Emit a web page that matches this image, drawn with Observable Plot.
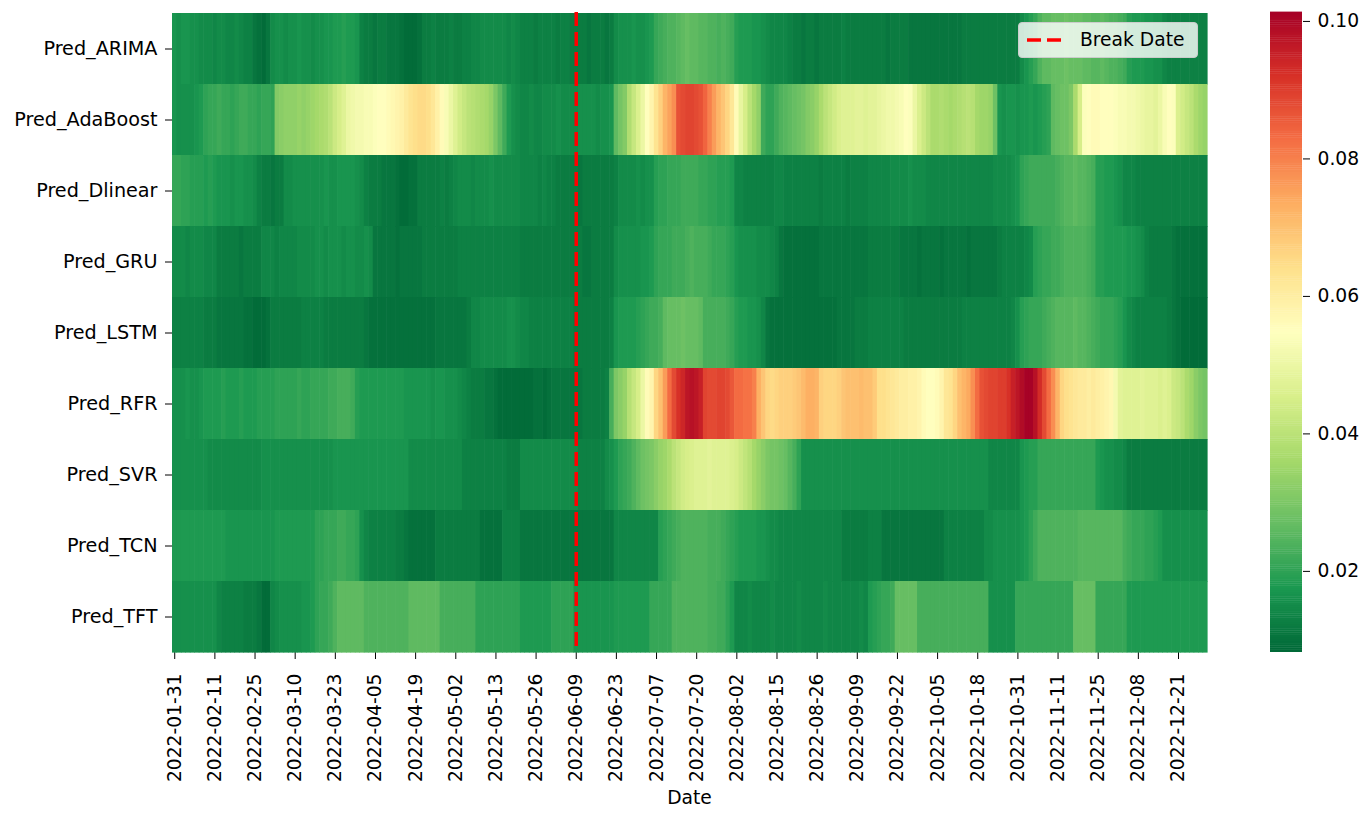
<!DOCTYPE html>
<html>
<head>
<meta charset="utf-8">
<script src="https://cdn.jsdelivr.net/npm/d3@7"></script>
<script src="https://cdn.jsdelivr.net/npm/@observablehq/plot@0.6"></script>
<style>
html, body { margin: 0; padding: 0; background: #fff; }
#wrap { position: relative; width: 1372px; height: 813px; font-family: "DejaVu Sans", sans-serif; color: #000; }
#main { position: absolute; left: 0; top: 0; }
#cbar { position: absolute; left: 1230px; top: 0; }
#xlabel { position: absolute; left: 172px; width: 1035px; top: 787px; text-align: center; font-size: 18.7px; line-height: 22px; }
#legend { position: absolute; left: 1018px; top: 22px; width: 178px; height: 34px; background: rgba(255,255,255,0.8); border: 1px solid #cccccc; border-radius: 4px; }
#legend svg { position: absolute; left: 8px; top: 0; }
#legend span { position: absolute; left: 61px; top: 6px; font-size: 18.7px; line-height: 22px; white-space: nowrap; }
#main g[aria-label="y-axis tick label"] { font-size: 19.2px; }
</style>
</head>
<body>
<div id="wrap">
  <div id="main"></div>
  <div id="cbar"></div>
  <div id="xlabel">Date</div>
  <div id="legend">
    <svg width="40" height="34"><line x1="0" x2="34" y1="17" y2="17" stroke="#ff0000" stroke-width="3.5" stroke-dasharray="14,6"/></svg>
    <span>Break Date</span>
  </div>
</div>
<script>
// ---- categories ----
const models = ["Pred_ARIMA","Pred_AdaBoost","Pred_Dlinear","Pred_GRU","Pred_LSTM","Pred_RFR","Pred_SVR","Pred_TCN","Pred_TFT"];
const marketHolidays = ["2022-02-21","2022-04-15","2022-05-30","2022-06-20","2022-07-04","2022-09-05","2022-11-24","2022-12-26"];
const fmtDay = d3.utcFormat("%Y-%m-%d");
const dates = d3.utcDays(new Date(Date.UTC(2022,0,31)), new Date(Date.UTC(2022,11,31)))
  .filter(d => d.getUTCDay() !== 0 && d.getUTCDay() !== 6)
  .map(fmtDay)
  .filter(s => !marketHolidays.includes(s));
const tickDates = ["2022-01-31","2022-02-11","2022-02-25","2022-03-10","2022-03-23","2022-04-05","2022-04-19","2022-05-02","2022-05-13","2022-05-26","2022-06-09","2022-06-23","2022-07-07","2022-07-20","2022-08-02","2022-08-15","2022-08-26","2022-09-09","2022-09-22","2022-10-05","2022-10-18","2022-10-31","2022-11-11","2022-11-25","2022-12-08","2022-12-21"];
const breakDate = "2022-06-09";
const colorTicks = [0.02, 0.04, 0.06, 0.08, 0.10];

// ---- series values (one per trading day) ----
const predARIMA = [
.017,.016,.017,.017,.016,.016,.015,
.015,.015,.014,.015,.015,.014,.014,.015,.014,.013,.013,
.011,.010,.009,.011,
.015,.016,.016,.015,.016,.016,.017,.016,.016,.015,.016,.016,.017,.017,
.018,.018,.019,.018,.018,.017,
.013,.012,.012,.011,.012,.012,.011,.011,.011,
.010,.009,.009,.009,.010,
.012,.012,.013,.012,.012,.012,.013,.012,.012,.013,.013,.014,
.014,.015,.015,.015,.015,.015,.015,.014,.015,.014,
.013,.013,.013,.012,.013,.013,.013,.013,.012,.013,.013,.012,.012,
.012,.012,.011,.012,.012,.012,.011,.012,
.015,.016,.016,.016,.017,.016,.016,.017,.018,
.021,.022,.023,.024,.024,
.025,.026,.027,.026,.026,.025,.025,
.024,.024,.023,.024,.023,.022,
.019,.018,.018,.018,.017,.017,.016,
.015,.014,.014,.014,.014,.013,
.012,.012,.011,.012,.012,.011,.012,.012,.012,
.012,.012,.013,.012,.012,.012,.012,.012,
.012,.012,.012,.012,.011,.012,.012,.012,.012,.011,
.011,.011,.011,.011,.011,.011,.011,.011,.011,.011,.011,
.012,.012,.012,.012,.012,.012,.012,.012,.012,.012,.012,.012,.012,
.015,.017,.019,.021,.024,
.026,.026,.027,.027,.027,
.028,.027,.027,.027,.026,.026,
.025,.025,.026,.025,.024,.024,.023,.022,
.019,.018,.018,.018,.017,.017,.016,.016,
.014,.013,.013,.013,.013,.013,.013,.013,.013,.013
];
const predAdaBoost = [
.017,.016,.016,.016,.016,.017,.018,
.020,.021,.021,.022,.021,.021,.020,.021,.022,.022,.021,.021,.020,.021,.021,.020,
.031,.032,.033,.033,.033,.034,.033,.034,.035,
.036,.037,.038,.040,
.043,.045,.047,
.050,.051,.052,.052,.053,.053,
.054,.055,.055,.056,.057,
.058,.059,.061,
.063,.064,.065,.065,.064,.062,
.059,.056,
.053,.050,
.047,.044,.042,
.040,.039,.038,.037,.036,
.034,.030,
.026,.022,.018,
.016,.015,
.014,.014,.015,.014,.014,.015,.015,.015,.016,.015,.015,.015,.015,.016,.016,.016,.016,.015,.016,.016,.017,
.026,.029,.031,
.038,.042,.046,.050,
.055,.058,
.063,.067,
.072,.075,.078,
.087,.088,.089,.089,.088,.087,
.084,.080,
.076,.072,
.069,.066,.062,
.056,
.049,.045,.040,
.036,.033,.022,
.020,.020,.022,
.024,.025,.026,.027,
.028,.029,.031,.032,
.034,.037,.040,
.042,.044,.046,
.047,.047,.047,.048,.048,.047,
.048,.048,.049,
.050,.051,.051,.052,.053,
.055,.054,.050,
.046,.043,.040,
.037,.037,.038,.037,.036,.037,.038,
.039,.040,.039,
.036,.035,.035,.034,.028,
.017,.016,.017,.017,.016,.017,.017,.018,.017,
.018,.019,.020,
.026,.027,.028,.028,.030,
.037,.045,
.054,.055,.056,.056,.055,.055,.055,.054,
.053,.053,.052,.052,.051,
.050,.049,.049,.048,.050,
.053,.055,.054,
.046,.044,.042,.040,
.037,.035,.034
];
const predDlinear = [
.021,.021,.020,.020,
.019,.019,.019,.018,.019,.018,
.017,.017,.017,.016,.017,.017,.016,.016,.015,
.013,.012,.012,.011,.012,.012,
.015,.015,.016,.016,.016,.016,.016,.016,.016,.017,.016,.016,
.017,.017,.017,.017,.016,.015,
.013,.012,.012,.012,.011,.011,.011,.010,
.009,.009,.010,.010,
.012,.012,.012,.012,.012,.013,.012,.013,.014,
.015,.015,.015,.014,.015,.015,.015,.016,.015,.015,.015,.015,.015,.015,
.014,.014,.014,.014,.013,.014,.013,.013,
.012,.012,.012,.012,.012,.011,.012,.012,.012,.012,.012,.012,.012,.013,
.015,.015,.015,.015,.016,.015,.016,.016,
.019,.020,.020,.021,.021,.021,
.022,.022,.022,.022,.021,.021,
.020,.020,.019,.019,.019,.018,
.014,.014,.013,.013,.013,.013,.013,.013,.013,.014,.014,.013,.013,.013,.013,.013,.013,.013,.013,.012,.013,.013,.013,.013,.013,.012,.013,.013,.013,.013,
.014,.014,.014,.014,.014,.015,.015,
.015,.015,.016,.015,.015,.015,.014,.014,
.014,.014,.014,.014,.014,.014,.014,.014,.014,.014,.014,.014,.014,.015,.015,.015,.015,.016,.017,
.020,.021,.022,.022,.022,.022,.022,.022,.023,
.024,.025,.025,.026,.025,.025,.024,.023,
.019,.019,.018,.018,.017,.016,
.014,.014,.014,.013,.013,.013,.013,.013,.013,.013,.013,.013,.013,.013,.013,.013,.013,.013,.013
];
const predGRU = [
.015,.015,.015,.014,.015,.015,.015,.014,.014,.014,
.012,.012,.012,.012,.012,.011,.012,.012,.012,.012,
.014,.014,.014,.013,.014,.014,.014,.014,.015,.015,
.015,.015,.016,.016,.015,.016,.016,.016,.015,.016,.016,.015,.015,.016,.015,
.011,.011,.011,.011,.011,.010,.011,.011,.011,.011,.011,
.012,.012,.012,.012,.012,.012,.012,.012,
.013,.013,.013,.013,.013,.013,.013,.013,.013,.013,.013,.013,.013,.013,
.012,.012,.012,.012,.012,.012,.012,.012,.012,.012,.012,.012,.012,.012,.011,.011,.012,.012,.012,.012,.012,
.015,.016,.016,.016,.016,.016,.017,.017,.018,
.020,.021,.021,.021,.022,.022,.022,
.023,.024,.023,.023,.023,
.022,.021,.021,.021,.020,.019,
.017,.016,.016,.016,.016,.015,.015,.015,.014,.013,
.011,.010,.010,.010,.010,.010,.010,.010,.010,
.011,.011,.011,.011,.011,.011,.011,.011,.011,.011,.011,
.012,.012,.012,.012,.012,.012,.012,.011,
.011,.011,.011,.010,.011,.011,.011,.011,.010,.011,.011,.011,.011,.011,.010,.011,.011,.011,.011,.011,.011,
.012,.013,.013,.013,.013,.013,.014,.015,
.019,.020,.021,.021,.022,.022,
.023,.024,.024,.024,.024,.024,.023,.022,
.019,.019,.018,.018,.018,.018,.018,.017,.017,.016,.015,
.013,.012,.012,.012,.012,.012,.011,
.010,.010,.010,.010,.010,.010,.010
];
const predLSTM = [
.013,.013,.013,.013,.013,.013,.013,.012,.012,.012,
.011,.011,.011,.011,.011,.011,.010,.010,
.009,.009,.009,.010,
.012,.012,.012,.012,.012,.012,.012,.013,.013,.013,.013,.013,.012,.012,.012,.012,.012,.012,.012,.012,.012,.011,
.010,.010,.010,.010,.010,.010,.010,.010,.010,.010,.010,.010,.010,.010,.010,.011,.011,.011,.011,.011,.011,.011,.012,
.014,.014,.015,.015,.015,.015,.015,.015,
.016,.016,.015,
.014,.014,.013,.013,.013,.013,.013,.013,.013,.013,.013,.013,.012,
.012,.012,.012,.012,.012,.012,.012,.013,
.017,.018,.018,.018,.018,.019,.020,
.021,.022,.022,.023,
.026,.027,.027,.027,.028,.027,.027,.027,.026,
.023,.023,.023,.023,.023,.022,.021,
.019,.018,.018,.017,.017,.016,.014,
.011,.010,.010,.010,.010,.010,.010,.010,.010,.010,.010,.010,.010,.010,.010,.010,.011,.011,.011,.011,.012,.012,.012,
.013,.013,.013,.013,.013,.013,.013,.013,
.012,.012,.012,.012,.012,.012,.012,.012,.012,.012,.012,.012,.012,
.013,.013,.013,.013,.013,.013,.013,.013,.013,.013,.013,.014,.016,
.019,.020,.021,.021,.021,.022,.023,
.024,.025,.025,.025,.025,.026,.025,.025,.024,.023,
.022,.021,.021,.021,.020,.019,.017,.015,
.014,.013,.013,.013,.013,.013,.013,.013,.012,.011,
.010,.009,.009,.009,.009,.009,.009
];
const predRFR = [
.016,.016,.016,.017,.016,.016,.017,
.018,.018,.018,.018,.019,.018,.018,.018,.019,.018,.018,.018,.019,.019,.019,.019,
.020,.020,.020,.020,.020,.021,.020,.020,.021,.021,
.021,.021,.022,.022,
.023,.023,.023,.022,
.019,.018,.018,.018,.018,.018,.018,.018,.018,.018,.018,.017,
.017,.017,.017,.017,.017,.016,.017,.017,.016,.016,.016,.015,.014,
.013,.012,.012,.012,.011,.011,.010,
.009,.009,.009,.009,.009,
.009,.009,.009,.010,.010,.009,.010,
.011,.011,.011,.011,.011,.011,.011,
.012,.012,.012,.012,.012,.013,
.023,
.030,.032,.034,
.039,.042,.045,.050,
.056,.058,
.066,.070,.076,
.083,.088,
.092,.094,
.097,.098,.097,.095,
.089,.088,.088,.089,
.089,.088,.086,.083,
.083,.082,.082,.080,
.073,.069,
.066,.065,.066,.067,.067,
.067,.068,.069,.071,
.073,.073,.072,
.067,.066,.066,.066,.067,
.069,.070,.070,.070,.071,.070,
.070,.068,
.064,.064,.063,.062,
.061,.060,.060,.059,.059,.058,
.056,.055,.055,.056,.058,
.062,.063,.066,.070,
.072,.074,.078,
.083,.087,
.088,.089,.089,.090,.090,.092,
.095,.097,.099,
.101,.101,.098,
.093,.088,.083,
.078,.072,.066,
.064,.063,.062,
.061,.061,.060,.061,.060,.059,
.058,.057,.052,
.048,.047,.047,.047,.047,.048,.047,.047,.047,.046,.047,.046,
.043,.042,.040,
.037,.035,.032,
.030,.029
];
const predSVR = [
.016,.016,.016,.016,.016,.016,.016,.016,.015,.015,
.015,.015,.015,.015,.015,.015,.015,.015,.015,.015,
.016,.016,.016,.016,.016,.016,.016,.016,.016,.016,.016,.016,.016,.016,.016,.016,.017,.017,.017,.017,.017,.017,
.017,.017,.017,.017,.017,.017,.017,.017,.017,.017,.017,
.015,.015,.015,.015,.015,.015,.015,.015,.015,.015,.015,.015,
.013,.013,.013,.013,.013,.013,.013,.013,.013,.013,
.012,.012,.012,
.015,.015,.015,.015,.015,.015,.015,.015,.015,.015,.015,.015,.015,
.013,.013,.013,.013,.013,.013,
.015,.016,.018,
.020,.021,.022,.024,.026,.028,
.029,.030,.032,.034,.035,
.037,.040,.042,
.044,.045,.046,
.047,.047,.047,.048,.047,.047,.047,.047,.046,
.045,.043,.041,.039,
.036,.034,.032,
.030,.029,.029,.028,.027,
.025,.023,.020,
.016,.016,.016,.016,.016,.016,.016,.016,.016,.016,.016,.016,.016,.016,.016,
.016,.016,.016,.016,.016,.016,.016,.016,.016,.016,.016,.016,.016,.016,.016,.016,.016,.016,.016,.016,.016,.016,.016,.016,.016,.016,.016,
.014,.014,.014,.014,.014,.014,.014,
.017,.018,.019,.019,
.021,.021,.021,.021,.021,.021,.021,.021,.021,.021,.021,.021,.021,
.018,.017,.016,.016,.015,.015,.014,
.012,.012,.012,.012,.012,.012,.012,.012,.012,.012,.012,.012,.012,.012,.012,.012,.012,.012
];
const predTCN = [
.018,.018,.018,.018,.018,.018,.018,.018,.018,.018,.018,.018,
.017,.017,.017,.017,.017,.017,.017,.017,.017,.017,.017,
.018,.018,.018,.018,.018,.018,.018,.018,.018,
.020,.020,.021,.021,.021,.022,.022,.021,.021,.020,
.016,.014,.013,.013,.013,.013,.013,.013,.012,.012,.011,
.010,.010,.010,.010,.010,.010,
.012,.012,.012,.012,.012,.012,.012,.012,.012,.012,
.010,.010,.010,.010,.010,
.013,.013,.013,.013,
.011,.011,.011,.011,.011,.011,.011,.011,.011,.011,.011,.011,.011,.011,.011,.011,.011,.011,.011,.011,.011,
.014,.014,.014,.014,.014,.014,.014,.014,.014,.014,
.019,.020,.021,.022,.023,
.024,.024,.024,.024,.024,.024,
.023,.023,.023,.022,.021,.020,
.019,.018,.018,.018,.018,.017,.017,.016,.015,.015,
.014,.014,.014,.014,.014,.014,.014,.014,.014,.014,.014,.014,.014,.014,
.012,.012,.012,.012,.012,.012,
.013,.013,.013,
.011,.011,.011,.011,.011,.011,.011,.011,.011,.011,.011,.011,.011,.011,
.013,.013,.013,.013,.013,.013,.013,.013,.013,
.015,.015,.016,.016,.016,.016,.016,.016,.017,.018,.020,.022,
.024,.024,.024,.024,.024,.024,.024,.024,.024,
.025,.025,.025,.025,.025,.025,.025,.025,.025,.025,
.023,.022,.021,.021,.021,.020,.020,.019,.018,
.016,.016,.016,.016,.016,.016,.016,.016,.016,.016
];
const predTFT = [
.016,.016,.016,.016,.016,.016,.016,.016,.016,.016,
.014,.013,.013,.013,.013,.013,.012,.012,.012,.011,
.009,.009,
.014,.015,.016,.016,.016,.016,.016,.017,.017,.018,
.020,.021,.021,.022,.024,
.026,.026,.026,.026,.026,.026,
.024,.024,.024,.024,.024,.024,.024,.024,.024,.024,
.026,.026,.026,.026,.026,.026,.026,
.023,.023,.023,.023,.023,.023,.023,.023,
.020,.020,.020,.020,.020,.020,.020,.020,.020,.020,
.018,.018,.018,.018,.018,.018,.018,
.020,.020,.020,.020,.020,
.017,.017,.017,.017,.017,.017,.017,.017,.017,
.018,.018,.018,.018,.018,.018,.018,.018,
.021,.021,.021,.021,.021,
.024,.024,.024,.024,.024,.024,.024,.024,
.023,.023,.022,.022,.020,.018,
.014,.014,.014,.015,.014,.014,.014,.014,.015,.014,.014,.014,.014,.014,.015,.014,.014,.014,.014,.014,.015,.014,.014,.014,.014,.014,.014,.014,.015,.014,
.018,.019,.020,.021,.021,.022,
.027,.027,.027,.027,.027,
.023,.023,.023,.023,.023,.023,.023,.023,.023,.023,.023,.023,.023,.023,.023,.023,
.016,.016,.016,.016,.016,.016,
.021,.021,.021,.021,.021,.021,.021,.021,.021,.021,.021,.021,.021,
.027,.027,.027,.027,.027,
.021,.021,.021,.021,.021,.021,.021,
.018,.018,.018,.018,.018,.018,.018,.018,.018,.018,.018,.018,.018,.018,.018,.018,.018,.018
];
const series = [predARIMA, predAdaBoost, predDlinear, predGRU, predLSTM, predRFR, predSVR, predTCN, predTFT];

const table = [];
models.forEach((m, i) => dates.forEach((d, j) => { if (series[i][j] !== undefined) table.push({date: d, model: m, value: series[i][j]}); }));

// ---- colour scale (RdYlGn reversed, linear segments) ----
const vmin = 0.0082, vmax = 0.1013;
const palette = ["#a50026","#d73027","#f46d43","#fdae61","#fee08b","#ffffbf","#d9ef8b","#a6d96a","#66bd63","#1a9850","#006837"].reverse();
const stops = palette.map((_, k) => vmin + (vmax - vmin) * k / (palette.length - 1));
const colorOpts = {type: "linear", domain: stops, range: palette, interpolate: "rgb", clamp: true};

const fontStyle = {fontFamily: "DejaVu Sans", fontSize: "18.7px", color: "#000", background: "transparent", overflow: "visible"};

const main = Plot.plot({
  width: 1230, height: 813,
  marginLeft: 172, marginRight: 23, marginTop: 12, marginBottom: 161,
  style: fontStyle,
  x: {domain: dates, padding: 0, ticks: tickDates, tickRotate: -90, tickSize: 7, tickPadding: 14, label: null},
  y: {domain: models, padding: 0, tickSize: 7, tickPadding: 8, label: null},
  color: colorOpts,
  marks: [
    Plot.cell(table, {x: "date", y: "model", fill: "value", insetRight: -0.6, insetBottom: -0.6}),
    Plot.ruleX([breakDate], {stroke: "#ff0000", strokeWidth: 3.5, strokeDasharray: "14,6"})
  ]
});
document.getElementById("main").appendChild(main);

// ---- colour bar ----
const rampN = 300;
const ramp = d3.range(rampN).map(k => ({lo: vmin + (vmax - vmin) * k / rampN, hi: vmin + (vmax - vmin) * (k + 1) / rampN}));
const cbar = Plot.plot({
  width: 142, height: 813,
  marginLeft: 40, marginRight: 70, marginTop: 12, marginBottom: 161,
  style: fontStyle,
  x: {domain: [0, 1], axis: null},
  y: {domain: [vmin, vmax], axis: "right", ticks: colorTicks, tickFormat: d3.format(".2f"), tickSize: 7, tickPadding: 8, label: null},
  color: colorOpts,
  marks: [
    Plot.rect(ramp, {x1: 0, x2: 1, y1: "lo", y2: "hi", fill: d => (d.lo + d.hi) / 2, insetTop: -0.4})
  ]
});
document.getElementById("cbar").appendChild(cbar);
</script>
</body>
</html>
